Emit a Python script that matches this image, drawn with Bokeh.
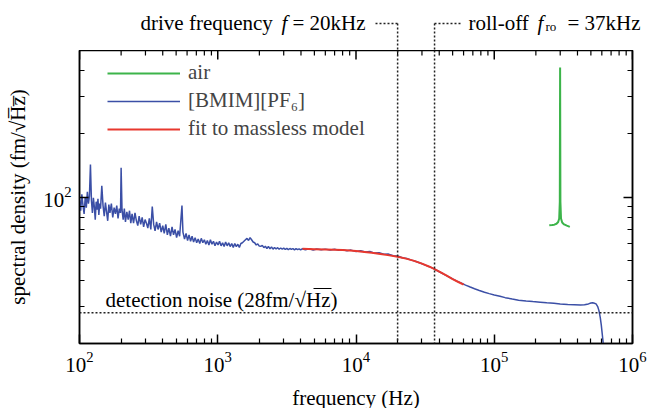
import numpy as np
from bokeh.plotting import figure
from bokeh.models import (FixedTicker, Range1d, Span, Label, Legend, LegendItem,
                          LogAxis, CustomJSTickFormatter)
from bokeh.embed import file_html
from bokeh.resources import INLINE

# ---------------- data ----------------
bmim_freq = [
    100, 102, 104, 106, 108, 110, 112, 114, 116, 118, 120, 122, 124, 126, 128,
    130, 132, 134, 136, 138, 140, 142, 145, 148, 151, 154, 157, 160, 163, 166,
    170, 174, 178, 182, 186, 190, 194, 198, 200, 203, 207, 211, 215, 220, 225,
    230, 235, 240, 246, 252, 258, 264, 270, 277, 284, 291, 298, 305, 312, 320,
    328, 336, 344, 352, 361, 370, 380, 390, 400, 410, 421, 432, 443, 455, 467,
    479, 491, 504, 517, 530, 551, 560, 575, 590, 605, 620, 636, 652, 669, 686,
    704, 722, 741, 760, 780, 800, 820, 841, 863, 885, 908, 931, 955, 980, 1005,
    1030, 1057, 1084, 1112, 1140, 1170, 1200, 1230, 1262, 1295, 1328, 1362,
    1397, 1433, 1470, 1508, 1547, 1587, 1628, 1670, 1713, 1757, 1802, 1849,
    1897, 1946, 1996, 2048, 2100, 2155, 2210, 2267, 2326, 2386, 2448, 2511,
    2576, 2642, 2711, 2781, 2853, 2926, 3002, 3080, 3159, 3241, 3325, 3411,
    3500, 3590, 3683, 3778, 3876, 3976, 4079,
    4300, 4600, 4900, 5200, 5600, 6000, 6500, 7000, 7500, 8000, 8600, 9200,
    10000, 10800, 11700, 12600, 13600, 14700, 15900, 17200, 18600, 20000,
    21600, 23300, 25200, 27200, 29400, 31700, 34200, 37000, 40000, 43000,
    46500, 50000, 54000, 58000, 62000, 67000, 72000, 78000, 85000, 92000,
    100000, 110000, 120000, 135000, 150000, 170000, 190000, 215000, 240000,
    270000, 300000, 340000, 380000, 420000, 450000, 480000, 500000, 515000,
    530000, 545000, 560000, 572000, 585000, 595000, 605000, 617000, 625000,
]
bmim_psd = [
    97, 86, 103, 91, 83, 100, 89, 106, 93, 101, 143, 96, 84, 99, 90,
    78, 95, 87, 98, 82, 93, 88, 113, 91, 81, 94, 85, 77, 92, 84,
    93, 80, 89, 83, 91, 79, 88, 84, 138, 87, 78, 88, 76, 85, 78,
    86, 75, 83, 75, 84, 77, 73, 81, 74, 80, 72, 78, 75, 71, 79,
    70, 90, 74, 69, 76, 70, 75, 68, 73, 67, 74, 66, 71, 65, 72,
    66, 70, 64, 69, 65, 91, 68, 63, 67, 62, 66, 61.5, 65, 61, 64,
    60.5, 63, 60, 63.5, 60.5, 62.5, 59.5, 62, 59, 62.5, 59.5, 61.5, 58.5, 61, 59,
    61.5, 58.5, 60.5, 58, 61, 58.5, 60.5, 58, 60, 57.5, 60, 58,
    59.5, 57.5, 60, 60.5, 61.5, 62.5, 63.5, 62, 64, 62.5, 61, 60.5,
    59, 59.8, 58.3, 58.2, 58.8, 57.3, 58.2, 56.8, 58.1, 56.6, 57.7, 56.4,
    57.4, 56.5, 57.3, 56.3, 57.1, 56.4, 57, 56.2, 56.9, 56.1, 56.8, 56.3,
    56.7, 56.0, 56.7, 56.1, 56.6, 55.9, 56.6,
    56.0, 56.6, 55.9, 56.5, 56.0, 56.4, 55.8, 56.3, 55.7, 56.0, 55.4, 55.8,
    55.0, 55.4, 54.6, 54.9, 54.0, 54.2, 53.3, 53.4, 52.4, 52.3,
    51.3, 50.9, 50.0, 49.2, 48.3, 47.3, 46.4, 45.3, 44.0, 42.9,
    41.7, 40.7, 39.6, 38.8, 38.0, 37.2, 36.5, 35.8, 35.1, 34.6,
    34.1, 33.6, 33.1, 32.6, 32.2, 31.9, 31.7, 31.5, 31.3,
    31.1, 30.9, 30.7, 30.6, 30.5, 30.6, 30.9, 31.2, 31.3,
    31.1, 30.9, 30.0, 28.7, 26.5, 24.4, 22.0, 19.5, 17.5,
]
fit_freq = [4100, 5000, 6000, 7000, 8000, 9000, 10000, 11500, 13000, 15000,
            17000, 20000, 23000, 26000, 30000, 34000, 37000, 41000, 45000,
            50000, 55000, 60000]
fit_psd = [56.6, 56.4, 56.2, 56.0, 55.8, 55.5, 55.2, 54.7, 54.2, 53.5,
           52.8, 51.9, 50.8, 49.7, 48.1, 46.5, 45.3, 43.7, 42.3,
           40.6, 39.3, 38.2]
air_freq = [250000, 262000, 272000, 282000, 290000, 295000, 298000, 299500,
            301000, 304000, 310000, 320000, 335000, 352000]
air_psd = [73.3, 73.5, 73.8, 74.5, 76.0, 79, 95, 415, 95, 79, 75.5, 74, 73, 72]

detection_noise = 28          # fm/sqrt(Hz)
drive_frequency = 20000       # Hz
rolloff_frequency = 37000     # Hz

x_major = [1e2, 1e3, 1e4, 1e5, 1e6]
x_minor = [m * 10 ** k for k in range(2, 6) for m in range(2, 10)]
y_major = [100]
y_minor = [20, 30, 40, 50, 60, 70, 80, 90, 200, 300, 400]

# ---------------- layout ----------------
W, H = 647, 408
BL, BR, BT, BB = 79, 15, 50, 65
XLAB_H = 25                  # strip holding the x-axis title
X0, X1 = 1e2, 1e6
Y0, Y1 = 20, 500
FW, FH = W - BL - BR, H - BT - BB
FONT = "Liberation Serif"
BLUE, RED, GREEN = "#3b4fa6", "#e8382e", "#3cb44a"
INK = "#222222"
DOT = "2 2"
BASE_FIX = 6   # Bokeh draws 'alphabetic' text a little lower than asked


def fx(px):
    return 10 ** (np.log10(X0) + (px - BL) / FW * (np.log10(X1) - np.log10(X0)))


def fy(py):
    return 10 ** (np.log10(Y0) + (BT + FH - py) / FH * (np.log10(Y1) - np.log10(Y0)))


def strip(height, x_range, log=True):
    f = figure(width=W, height=height, x_axis_type="log" if log else "linear",
               x_range=x_range, y_range=Range1d(0, height),
               output_backend="svg", toolbar_location=None,
               min_border_left=0, min_border_right=0, min_border_top=0,
               min_border_bottom=0, x_axis_location=None, y_axis_location=None,
               outline_line_color=None)
    f.xgrid.visible = False
    f.ygrid.visible = False
    f.background_fill_color = "white"
    f.border_fill_color = "white"
    return f


# ---------- top strip (annotations above the frame) ----------
top = strip(BT, Range1d(fx(0), fx(W)))


def sy(py):  # strip y (pixels measured from the top of the page)
    return BT - py


YL = 23
for f0, x_text in ((drive_frequency, 375), (rolloff_frequency, 460)):
    top.segment(x0=[f0], y0=[sy(YL)], x1=[f0], y1=[0], line_color=INK,
                line_width=1.5, line_dash=DOT)
    top.segment(x0=[fx(x_text)], y0=[sy(YL)], x1=[f0], y1=[sy(YL)], line_color=INK,
                line_width=1.5, line_dash=DOT)


def tlab(px, py, text, size="21px", style="normal", align="left"):
    top.add_layout(Label(x=fx(px), y=sy(py - BASE_FIX), text=text, text_font=FONT,
                         text_font_size=size, text_font_style=style,
                         text_align=align, text_baseline="alphabetic",
                         text_color="black"))


tlab(140, 28, "drive frequency")
tlab(281, 28, "f", style="italic")
tlab(365, 28, "= 20kHz", align="right")
tlab(468, 28, "roll-off")
tlab(537, 28, "f", style="italic")
tlab(545, 32, "ro", size="13px")
tlab(640, 28, "= 37kHz", align="right")

# ---------------- main plot ----------------
p = figure(width=W, height=H - BT - XLAB_H, x_axis_type="log", y_axis_type="log",
           x_range=Range1d(X0, X1), y_range=Range1d(Y0, Y1),
           output_backend="svg", toolbar_location=None,
           min_border_left=BL, min_border_right=BR,
           min_border_top=0, min_border_bottom=BB - XLAB_H)
p.outline_line_color = "black"
p.outline_line_width = 1.5
p.xgrid.visible = False
p.ygrid.visible = False
p.background_fill_color = "white"
p.border_fill_color = "white"


def style_axis(ax, ticker, labels=True):
    ax.ticker = ticker
    ax.axis_line_color = "black"
    ax.axis_line_width = 1.5
    ax.major_tick_in = 9
    ax.major_tick_out = 0
    ax.minor_tick_in = 5
    ax.minor_tick_out = 0
    ax.major_tick_line_color = "black"
    ax.minor_tick_line_color = "black"
    ax.major_tick_line_width = 1.5
    ax.minor_tick_line_width = 1.2
    ax.major_label_text_font = FONT
    ax.major_label_text_color = "black"
    ax.major_label_text_font_size = "21px"
    if not labels:
        ax.formatter = CustomJSTickFormatter(code="return ''")
        ax.major_label_standoff = 0


style_axis(p.xaxis[0], FixedTicker(ticks=x_major, minor_ticks=x_minor))
style_axis(p.yaxis[0], FixedTicker(ticks=y_major, minor_ticks=y_minor))
p.xaxis.major_label_standoff = 8
p.yaxis.major_label_standoff = 8
p.yaxis.axis_label = "spectral density (fm/\u221aH\u0305z\u0305)"
p.yaxis.axis_label_text_font = FONT
p.yaxis.axis_label_text_font_size = "21px"
p.yaxis.axis_label_text_font_style = "normal"
p.yaxis.axis_label_text_color = "black"
p.yaxis.axis_label_standoff = 10

right_ax = LogAxis()
style_axis(right_ax, FixedTicker(ticks=y_major, minor_ticks=y_minor), labels=False)
p.add_layout(right_ax, "right")

# ticks of the top frame edge (pointing inward)
p.segment(x0=x_major, y0=[Y1] * len(x_major), x1=x_major,
          y1=[fy(BT + 9)] * len(x_major), line_color="black", line_width=1.5)
p.segment(x0=x_minor, y0=[Y1] * len(x_minor), x1=x_minor,
          y1=[fy(BT + 5)] * len(x_minor), line_color="black", line_width=1.2)

# ---------------- data lines ----------------
r_blue = p.line(bmim_freq, bmim_psd, line_color=BLUE, line_width=1.5)
r_red = p.line(fit_freq, fit_psd, line_color=RED, line_width=2)
r_green = p.line(air_freq, air_psd, line_color=GREEN, line_width=2)

# ---------------- reference lines ----------------
p.add_layout(Span(location=detection_noise, dimension="width", line_color=INK,
                  line_width=1.5, line_dash=DOT))
for f0 in (drive_frequency, rolloff_frequency):
    p.add_layout(Span(location=f0, dimension="height", line_color=INK,
                      line_width=1.5, line_dash=DOT))

p.add_layout(Label(x=fx(105), y=fy(305 - BASE_FIX), text="detection noise (28fm/\u221aHz)",
                   text_font=FONT, text_font_size="21px", text_align="left",
                   text_baseline="alphabetic", text_color="black"))
p.segment(x0=[fx(313)], y0=[fy(288)], x1=[fx(331)], y1=[fy(288)],
          line_color="black", line_width=1.2)

# ---------------- legend ----------------
legend = Legend(items=[LegendItem(label="air", renderers=[r_green]),
                       LegendItem(label="[BMIM][PF\u2086]", renderers=[r_blue]),
                       LegendItem(label="fit to massless model", renderers=[r_red])],
                location=(28, 202), padding=0, margin=0, spacing=3,
                glyph_width=73, glyph_height=24, label_height=24, label_standoff=8,
                label_text_font=FONT, label_text_font_size="21px",
                border_line_color=None, background_fill_alpha=0)
p.add_layout(legend)

# ---------- bottom strip (x-axis title) ----------
bot = strip(XLAB_H, Range1d(0, W), log=False)
bot.add_layout(Label(x=BL + FW / 2, y=H - (403 - BASE_FIX), text="frequency (Hz)",
                     text_font=FONT, text_font_size="21px", text_align="center",
                     text_baseline="alphabetic", text_color="black"))

open("out.html", "w").write(file_html([top, p, bot], INLINE))
